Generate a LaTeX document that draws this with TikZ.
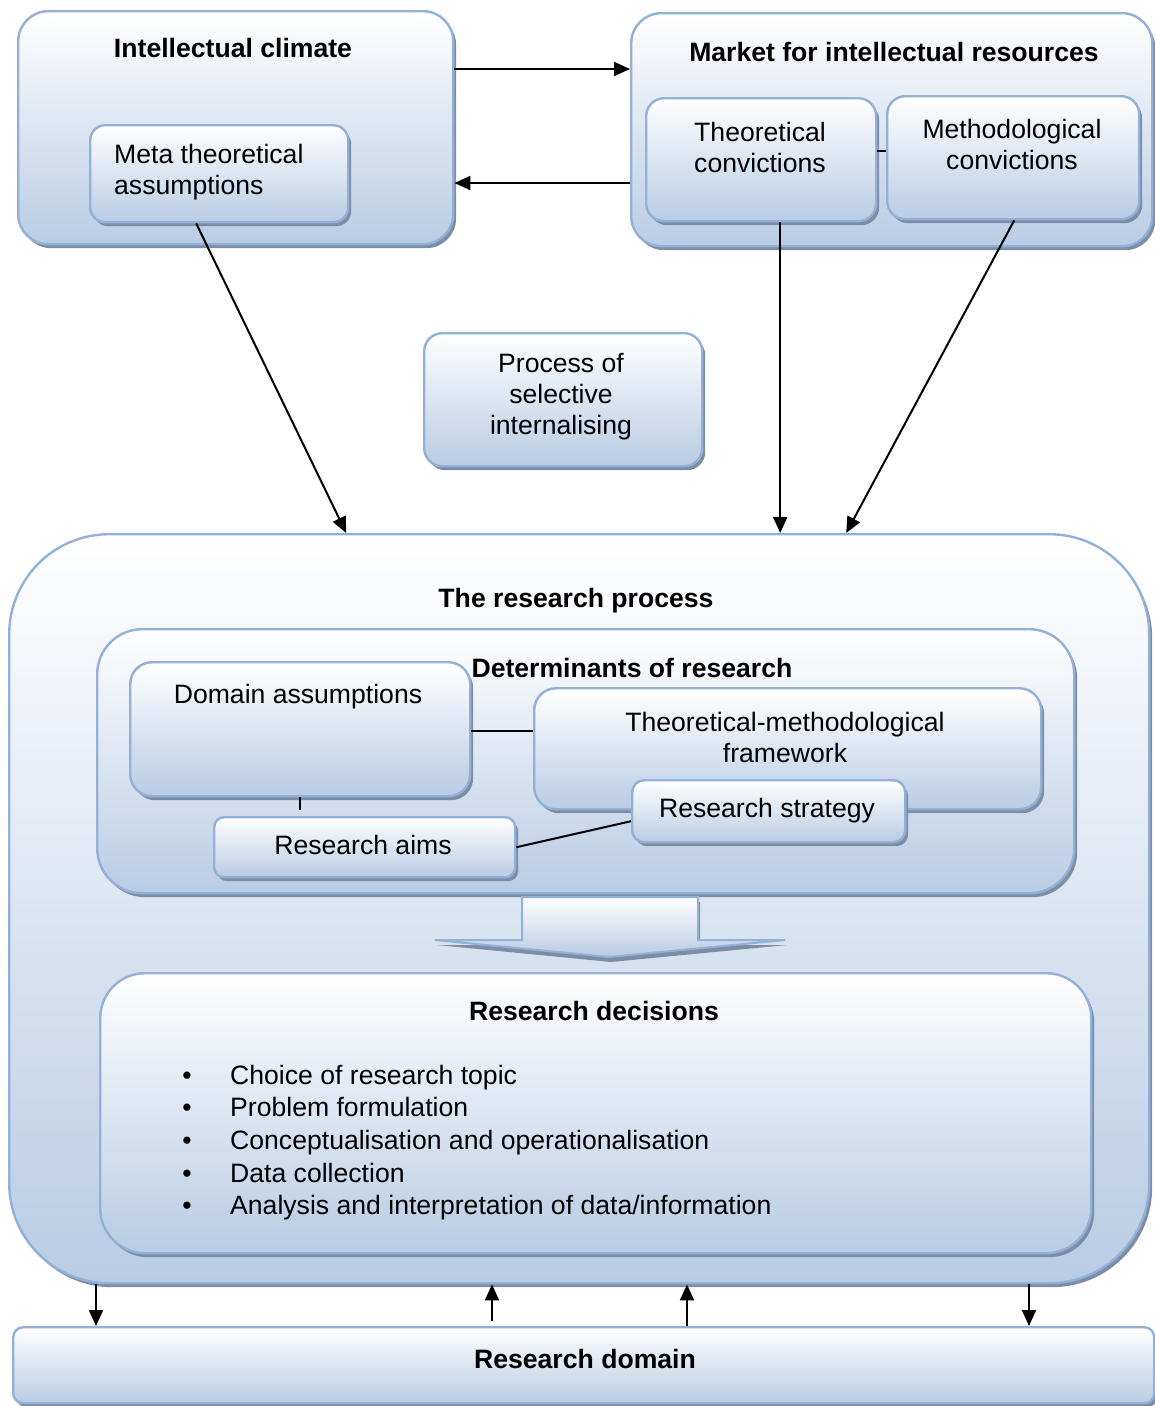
\documentclass[tikz,border=0pt]{standalone}
\usepackage{fontspec}
\setmainfont{Liberation Sans}
\usetikzlibrary{shadows,arrows.meta,calc}

\definecolor{boxline}{RGB}{147,177,214}
\definecolor{boxbot}{RGB}{184,204,228}
\definecolor{boxshadow}{RGB}{125,141,166}

\tikzset{
  panel/.style={draw=boxline, line width=2.4pt, top color=white, bottom color=boxbot,
    inner sep=0pt, anchor=north west,
    drop shadow={shadow xshift=3pt, shadow yshift=-4pt, fill=boxshadow, opacity=1}},
  txt/.style={font=\fontsize{26.6}{31}\selectfont, align=center, inner sep=0pt},
  ttl/.style={font=\fontsize{26.6}{31}\selectfont\bfseries, inner sep=0pt, anchor=base},
  one/.style={font=\fontsize{26.6}{31}\selectfont, inner sep=0pt, anchor=base},
  arr/.style={-{Triangle[length=16pt,width=14pt]}, line width=2pt},
  link/.style={line width=2pt},
}

\begin{document}
\begin{tikzpicture}[x=1pt,y=-1pt]
\useasboundingbox (0,0) rectangle (1155,1406);

% --- upper panels --------------------------------------------------------
\node[panel, rounded corners=30pt, minimum width=435pt, minimum height=233pt] (ic) at (17,10) {};
\node[ttl] (ictitle) at (233,57.5) {Intellectual climate};
\node[panel, rounded corners=15pt, minimum width=258pt, minimum height=97pt] (meta) at (89,124) {};
\node[txt, align=left, anchor=west] (metatxt) at (114,172.5) {Meta theoretical\\assumptions};

\node[panel, rounded corners=30pt, minimum width=521pt, minimum height=233pt] (mk) at (630,12) {};
\node[ttl] (mktitle) at (894,61.5) {Market for intellectual resources};
\node[panel, rounded corners=18pt, minimum width=230pt, minimum height=123pt] (tc) at (645,97) {};
\node[txt] (tctxt) at (760,147) {Theoretical\\convictions};
\node[panel, rounded corners=18pt, minimum width=252pt, minimum height=123pt] (mc) at (886,95) {};
\node[txt] (mctxt) at (1012,144.5) {Methodological\\convictions};

\node[panel, rounded corners=18pt, minimum width=278pt, minimum height=133pt] (proc) at (423,332) {};
\node[txt] (proctxt) at (561,396.5) {Process of\\selective\\internalising};

% --- research process ----------------------------------------------------
\node[panel, rounded corners=100pt, minimum width=1140pt, minimum height=749pt] (rp) at (8,533) {};
\node[ttl] (rptitle) at (576,607.5) {The research process};

\node[panel, rounded corners=45pt, minimum width=977pt, minimum height=264pt] (det) at (96,628) {};
\node[ttl] (dettitle) at (632,677.5) {Determinants of research};

\node[panel, rounded corners=22pt, minimum width=340pt, minimum height=134pt] (da) at (129,661) {};
\node[one] (datxt) at (298,703.5) {Domain assumptions};
\node[panel, rounded corners=22pt, minimum width=507pt, minimum height=121pt] (tmf) at (533,687) {};
\node[txt] (tmftxt) at (785,737.5) {Theoretical-methodological\\framework};
\node[panel, rounded corners=12pt, minimum width=273pt, minimum height=62pt] (rs) at (631,779) {};
\node[one] (rstxt) at (767,817.5) {Research strategy};
\node[panel, rounded corners=10pt, minimum width=301pt, minimum height=60pt] (ra) at (213,816) {};
\node[one] (ratxt) at (363,854.5) {Research aims};

% flow arrow from determinants to decisions
\draw[draw=boxline, line width=2pt, top color=white, bottom color=boxbot,
      drop shadow={shadow xshift=2pt, shadow yshift=-5pt, fill=boxshadow, opacity=1}]
  (522,897) -- (698,897) -- (698,940) -- (785,940) -- (609,957) -- (435,940) -- (522,940) -- cycle;

\node[panel, rounded corners=45pt, minimum width=991pt, minimum height=280pt] (rdec) at (99,972) {};
\node[ttl] (rdectitle) at (594,1020.5) {Research decisions};
\foreach \y/\t [count=\i] in {1084.5/{Choice of research topic},
                              1116.5/{Problem formulation},
                              1149.5/{Conceptualisation and operationalisation},
                              1182.5/{Data collection},
                              1214.5/{Analysis and interpretation of data{/}information}}{
  \node[one] (dot\i) at (187,\y) {•};
  \node[one, anchor=base west] (item\i) at (230,\y) {\t};
}

% --- research domain -----------------------------------------------------
\node[panel, rounded corners=10pt, minimum width=1141pt, minimum height=76pt] (rd) at (12,1326) {};
\node[ttl] (rdtitle) at (585,1368.5) {Research domain};

% --- connectors ----------------------------------------------------------
\draw[arr] (ic.east |- 0,69) -- (mk.west |- 0,69);
\draw[arr] (mk.west |- 0,183) -- (ic.east |- 0,183);
\draw[link] (tc.east |- 0,151) -- (mc.west |- 0,151);

\draw[arr] ([xshift=-23pt]meta.south) -- ([xshift=-233pt]rp.north);
\draw[arr] ([xshift=19pt]tc.south) -- ([xshift=201pt]rp.north);
\draw[arr] ([xshift=1pt]mc.south) -- ([xshift=267pt]rp.north);

\draw[link] (da.east |- 0,731) -- (tmf.west |- 0,731);
\draw[link] (da.south) -- (da.south |- 0,810);
\draw[link] (ra.east) -- ([yshift=-10pt]rs.west);

\coordinate (u1) at (492,1321);
\coordinate (u2) at (687,1326);
\draw[arr] (rp.south -| 96,0) -- (rd.north -| 96,0);
\draw[arr] (u1) -- (rp.south -| u1);
\draw[arr] (u2) -- (rp.south -| u2);
\draw[arr] (rp.south -| 1029,0) -- (rd.north -| 1029,0);
\end{tikzpicture}
\end{document}
